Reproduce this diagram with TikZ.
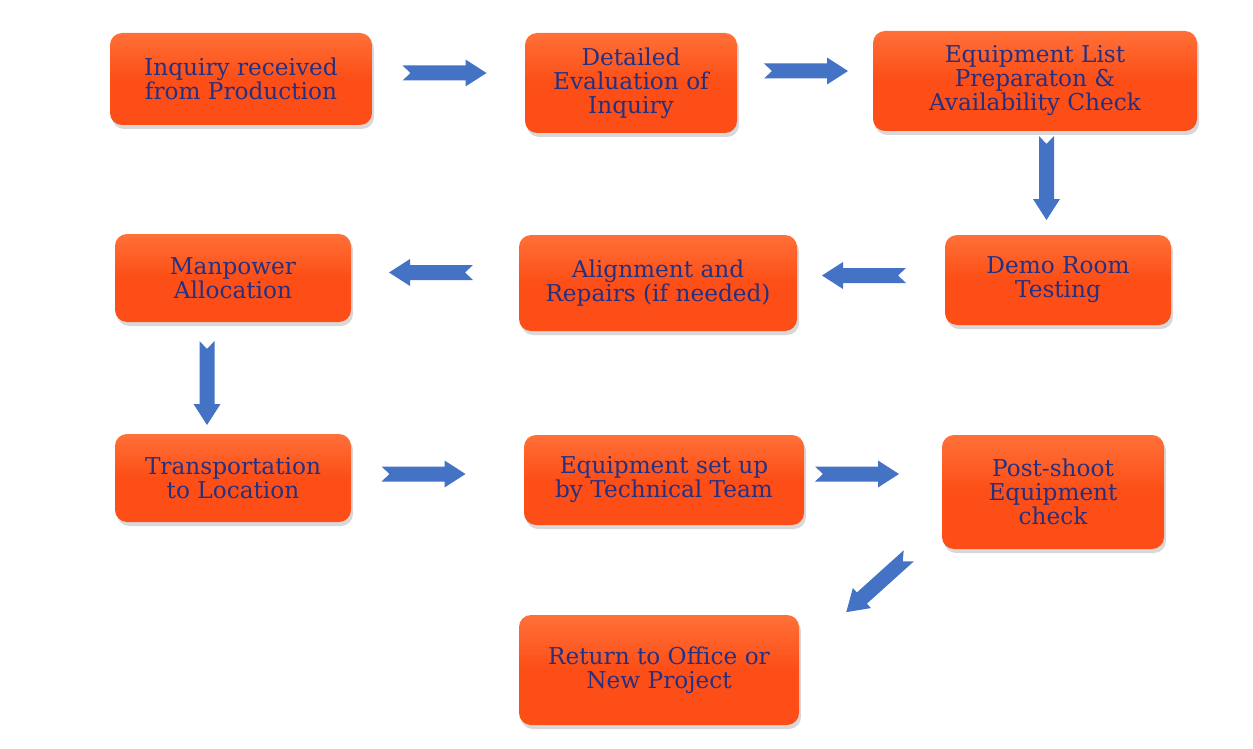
\documentclass[tikz,border=0pt]{standalone}
\usepackage{fontspec}
\setmainfont{DejaVu Serif}
\usetikzlibrary{calc,shadows}
\definecolor{boxorange}{RGB}{252,78,22}
\definecolor{boxlight}{RGB}{255,112,56}
\definecolor{textnavy}{RGB}{38,48,128}
\definecolor{arrowblue}{RGB}{68,114,196}
\tikzset{
  stepbox/.style={rounded corners=6pt, top color=boxlight, bottom color=boxorange,
    middle color=boxorange, draw=none, align=center, text=textnavy,
    font=\fontsize{11.6}{12}\selectfont,
    drop shadow={opacity=0.3, shadow xshift=1pt, shadow yshift=-2pt}},
  flowarrow/.pic={
    \fill[arrowblue] (-42,-7.5) -- (21,-7.5) -- (21,-13.5) -- (42,0) -- (21,13.5)
      -- (21,7.5) -- (-42,7.5) -- (-34,0) -- cycle;}
}
\begin{document}
\begin{tikzpicture}[x=0.5pt,y=-0.5pt]
  \useasboundingbox[fill=white] (0,0) rectangle (1253,749);
  % steps
  \node[stepbox, minimum width=131pt, minimum height=46pt] (inquiry) at (241,79)
    {Inquiry received\\from Production};
  \node[stepbox, minimum width=106pt, minimum height=50pt] (evaluate) at (631,83)
    {Detailed\\Evaluation of\\Inquiry};
  \node[stepbox, minimum width=162pt, minimum height=50pt] (list) at (1035,81)
    {Equipment List\\Preparaton \&\\Availability Check};
  \node[stepbox, minimum width=113pt, minimum height=45pt] (demo) at (1058,280)
    {Demo Room\\Testing};
  \node[stepbox, minimum width=139pt, minimum height=48pt] (repair) at (658,283)
    {Alignment and\\Repairs (if needed)};
  \node[stepbox, minimum width=118pt, minimum height=44pt] (manpower) at (233,278)
    {Manpower\\Allocation};
  \node[stepbox, minimum width=118pt, minimum height=44pt] (transport) at (233,478)
    {Transportation\\to Location};
  \node[stepbox, minimum width=140pt, minimum height=45pt] (setup) at (664,480)
    {Equipment set up\\by Technical Team};
  \node[stepbox, minimum width=111pt, minimum height=57pt] (postshoot) at (1053,492)
    {Post-shoot\\Equipment\\check};
  \node[stepbox, minimum width=140pt, minimum height=55pt] (return) at (659,670)
    {Return to Office or\\New Project};
  % arrows
  \pic at ($(inquiry.east)!0.5!(evaluate.west)+(-4,-8)$) {flowarrow};
  \pic at ($(evaluate.east)!0.5!(list.west)+(1,-11)$) {flowarrow};
  \pic[rotate=-90] at ($(list.south)!0.5!(demo.north)+(0,-5)$) {flowarrow};
  \pic[rotate=180] at ($(demo.west)!0.5!(repair.east)+(-7,-6)$) {flowarrow};
  \pic[rotate=180] at ($(repair.west)!0.5!(manpower.east)+(-4,-8)$) {flowarrow};
  \pic[rotate=-90] at ($(manpower.south)!0.5!(transport.north)+(-26,5)$) {flowarrow};
  \pic at ($(transport.east)!0.5!(setup.west)+(-14,-5)$) {flowarrow};
  \pic at ($(setup.east)!0.5!(postshoot.west)+(-16,-12)$) {flowarrow};
  \pic[rotate=222] at ($(postshoot.south west)!0.5!(return.north east)+(7,2)$) {flowarrow};
\end{tikzpicture}
\end{document}
